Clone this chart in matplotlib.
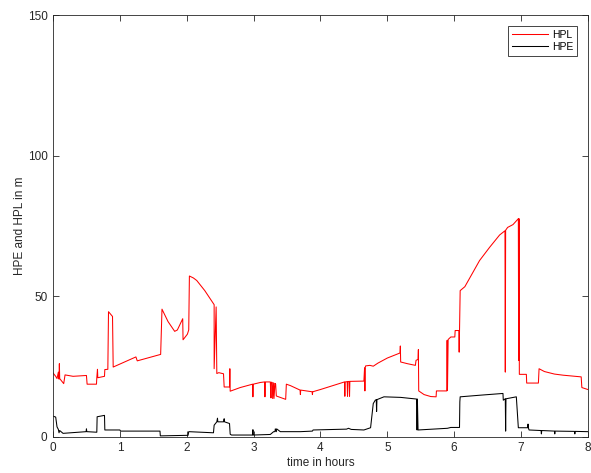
import matplotlib
matplotlib.use("Agg")
import matplotlib.pyplot as plt
import numpy as np

# HPL (protection level) trace, hours vs metres
hpl_t = [0.00, 0.04, 0.06, 0.08, 0.09, 0.095, 0.10, 0.16, 0.18, 0.30, 0.50, 0.51,
         0.65, 0.655, 0.665, 0.67, 0.77, 0.775, 0.82, 0.83, 0.89, 0.90, 1.24, 1.26,
         1.61, 1.63, 1.72, 1.82, 1.86, 1.94, 1.945, 2.01, 2.03, 2.04, 2.10, 2.15,
         2.27, 2.40, 2.41, 2.41, 2.44, 2.45, 2.48, 2.55, 2.56, 2.64, 2.645, 2.65,
         2.80, 2.985, 2.99, 2.995, 3.10, 3.165, 3.17, 3.175, 3.25, 3.26, 3.265,
         3.28, 3.285, 3.30, 3.305, 3.32, 3.33, 3.34, 3.48, 3.49, 3.55, 3.695, 3.70,
         3.705, 3.875, 3.88, 3.885, 4.00, 4.20, 4.36, 4.365, 4.37, 4.40, 4.405,
         4.41, 4.43, 4.435, 4.44, 4.65, 4.66, 4.665, 4.67, 4.675, 4.74, 4.79, 4.86,
         5.00, 5.19, 5.195, 5.20, 5.30, 5.42, 5.43, 5.46, 5.465, 5.47, 5.55, 5.65,
         5.73, 5.735, 5.89, 5.895, 5.90, 5.91, 5.95, 6.01, 6.015, 6.07, 6.075, 6.08,
         6.09, 6.16, 6.28, 6.38, 6.53, 6.68, 6.76, 6.765, 6.77, 6.80, 6.88, 6.96,
         6.965, 6.97, 6.975, 7.08, 7.085, 7.26, 7.27, 7.35, 7.50, 7.63, 7.90, 7.91,
         8.00]
hpl_v = [22.7, 21.5, 20.7, 23.0, 20.5, 26.0, 20.7, 18.9, 22.0, 21.5, 21.8, 18.7,
         18.7, 21.0, 24.0, 21.0, 21.5, 23.9, 24.0, 44.5, 42.8, 24.8, 28.4, 27.0,
         29.3, 45.4, 41.0, 37.5, 38.0, 42.0, 34.5, 36.5, 38.0, 57.2, 56.5, 55.6,
         52.0, 47.3, 47.0, 24.2, 46.2, 22.5, 22.8, 22.4, 17.7, 17.7, 24.2, 16.2,
         17.5, 18.7, 14.2, 18.7, 19.3, 19.5, 14.2, 19.5, 19.5, 13.8, 19.4,
         19.3, 13.6, 19.2, 13.6, 19.0, 18.7, 14.5, 13.3, 18.7, 18.2, 16.6, 15.0,
         16.6, 16.0, 15.0, 16.0, 16.8, 18.3, 19.5, 14.4, 19.5, 19.6, 14.4,
         19.6, 19.7, 14.4, 19.7, 19.8, 24.5, 16.3, 24.6, 25.2, 25.4, 25.1, 26.2,
         28.0, 29.8, 32.3, 26.6, 26.0, 25.4, 27.2, 27.5, 31.0, 16.3, 15.0, 14.3,
         14.2, 16.3, 16.3, 34.3, 16.5, 34.6, 35.5, 35.5, 37.8, 37.8, 30.1, 37.8,
         52.0, 53.4, 58.5, 62.7, 67.4, 71.8, 73.3, 23.0, 73.5, 74.5, 75.5, 77.6,
         27.2, 77.6, 22.2, 22.2, 19.1, 19.1, 24.2, 23.2, 22.3, 21.9, 21.3, 17.5,
         16.8]

# HPE (position error) trace
hpe_t = [0.00, 0.04, 0.06, 0.08, 0.09, 0.10, 0.15, 0.495, 0.50, 0.505, 0.655, 0.66,
         0.77, 0.775, 1.00, 1.01, 1.60, 1.605, 2.02, 2.03, 2.40, 2.41, 2.45, 2.46,
         2.465, 2.55, 2.56, 2.565, 2.64, 2.65, 2.67, 2.985, 2.99, 2.995, 3.25, 3.30,
         3.32, 3.325, 3.34, 3.345, 3.40, 3.70, 3.88, 3.89, 4.39, 4.42, 4.46, 4.65,
         4.75, 4.79, 4.82, 4.835, 4.84, 4.845, 4.95, 5.20, 5.44, 5.445, 5.45, 5.46,
         5.90, 5.95, 6.08, 6.085, 6.09, 6.40, 6.73, 6.735, 6.765, 6.77, 6.775,
         6.93, 6.96, 7.10, 7.105, 7.11, 7.12, 7.30, 7.305, 7.31, 7.50, 7.505, 7.51,
         7.80, 7.805, 7.81, 8.00]
hpe_v = [7.3, 7.0, 3.5, 2.6, 1.4, 2.2, 1.2, 1.8, 2.8, 1.8, 1.6, 7.1,
         7.6, 2.4, 2.4, 2.0, 2.0, 0.3, 0.5, 1.8, 1.4, 4.1, 5.3, 6.6,
         5.3, 5.3, 6.4, 5.3, 4.7, 0.9, 0.6, 0.6, 2.5, 0.6, 0.8, 1.8,
         1.8, 2.8, 1.8, 2.8, 1.8, 1.8, 2.0, 2.4, 2.7, 3.0, 2.6, 2.4,
         3.2, 11.8, 13.0, 13.2, 9.0, 13.2, 14.2, 14.0, 13.4, 2.4, 13.4, 2.4,
         3.0, 3.3, 3.3, 12.4, 14.2, 14.8, 15.4, 13.0, 13.5, 2.0, 13.5,
         14.2, 3.2, 3.2, 4.5, 3.2, 2.4, 2.2, 1.0, 2.2, 2.0, 1.0, 2.0,
         1.9, 1.0, 1.9, 1.8]

plt.rcParams['font.family'] = ['Liberation Sans', 'DejaVu Sans']
axis_grey = '#262626'

fig = plt.figure(figsize=(5.91, 4.73), dpi=100)
ax = fig.add_axes([0.0897, 0.0767, 0.905, 0.891])

ax.plot(hpl_t, hpl_v, color='red', lw=0.75, label='HPL')
ax.plot(hpe_t, hpe_v, color='black', lw=0.75, label='HPE')

ax.set_xlim(0, 8)
ax.set_ylim(0, 150)
ax.set_xticks(np.arange(0, 9, 1))
ax.set_yticks([0, 50, 100, 150])
ax.tick_params(direction='in', length=4, width=0.6, top=True, right=True,
               labelsize=8.5, colors=axis_grey, pad=4)
for s in ax.spines.values():
    s.set_color(axis_grey)
    s.set_linewidth(0.6)

ax.set_xlabel('time in hours', fontsize=8.5, color=axis_grey, labelpad=2)
ax.set_ylabel('HPE and HPL in m', fontsize=8.5, color=axis_grey, labelpad=1)

leg = ax.legend(loc='upper right', fontsize=7.5, fancybox=False, framealpha=1,
                edgecolor=axis_grey, handlelength=3.4, handletextpad=0.4,
                borderpad=0.4, labelspacing=0.2, borderaxespad=1.0)
leg.get_frame().set_linewidth(0.6)

fig.savefig('out.png', dpi=100, facecolor='white')
